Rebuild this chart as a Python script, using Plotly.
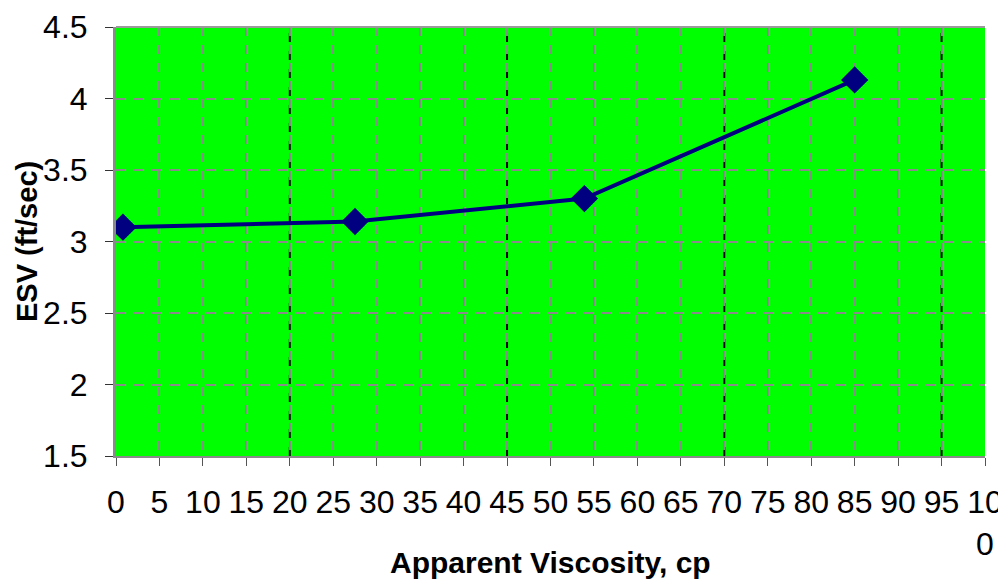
import plotly.graph_objects as go

viscosity = [0.8, 27.5, 53.9, 85.0]
esv = [3.10, 3.14, 3.30, 4.13]

x_tickvals = list(range(0, 101, 5))
x_ticktext = [str(v) for v in range(0, 100, 5)] + ["10<br>0"]
y_tickvals = [1.5, 2, 2.5, 3, 3.5, 4, 4.5]
y_ticktext = ["1.5", "2", "2.5", "3", "3.5", "4", "4.5"]
dark_grid_x = [20, 45, 70, 95]

fig = go.Figure()
fig.add_trace(go.Scatter(
    x=viscosity, y=esv, mode="lines+markers",
    line=dict(color="#000080", width=4),
    marker=dict(symbol="diamond", size=21, color="#000080"),
    showlegend=False,
))

for xv in dark_grid_x:
    fig.add_shape(type="line", x0=xv, x1=xv, y0=1.5, y1=4.5, xref="x", yref="y",
                  line=dict(color="black", width=2, dash="dash"), layer="below")

FONT = "Liberation Sans, Arial, sans-serif"
fig.update_layout(
    width=998, height=573,
    margin=dict(l=108, r=21, t=19, b=125),
    paper_bgcolor="white",
    plot_bgcolor="#00FF00",
    font=dict(family=FONT, size=33, color="black"),
)
fig.update_xaxes(
    range=[0, 100], tickmode="array", tickvals=x_tickvals, ticktext=x_ticktext,
    showgrid=True, gridcolor="#8a8a8a", griddash="dash", gridwidth=1.5,
    ticks="outside", ticklen=8, tickcolor="#555", showline=True, linecolor="#8a8a8a", linewidth=2,
    zeroline=False, tickangle=0, automargin=False, ticklabelstandoff=9,
    ticklabeloverflow="allow", tickfont=dict(size=32),
)
fig.update_yaxes(
    range=[1.5, 4.5], tickmode="array", tickvals=y_tickvals, ticktext=y_ticktext,
    showgrid=True, gridcolor="#8a8a8a", griddash="dash", gridwidth=1.5,
    ticks="outside", ticklen=8, tickcolor="#333", showline=True, linecolor="#8a8a8a", linewidth=3,
    zeroline=False, automargin=False, ticklabelstandoff=11,
    ticklabeloverflow="allow", tickfont=dict(size=32),
)
fig.add_shape(type="line", x0=0, x1=1, y0=1, y1=1, xref="paper", yref="paper",
              line=dict(color="#9a9a9a", width=2))
fig.add_annotation(text="<b>Apparent Viscosity, cp</b>", xref="paper", yref="paper",
                   x=0.5, y=-0.249, xanchor="center", yanchor="middle", showarrow=False,
                   font=dict(family=FONT, size=30))
fig.add_annotation(text="<b>ESV (ft/sec)</b>", xref="paper", yref="paper",
                   x=-0.1030, y=0.5, xanchor="center", yanchor="middle", showarrow=False,
                   textangle=-90, font=dict(family=FONT, size=29))

fig.write_html("out.html")
